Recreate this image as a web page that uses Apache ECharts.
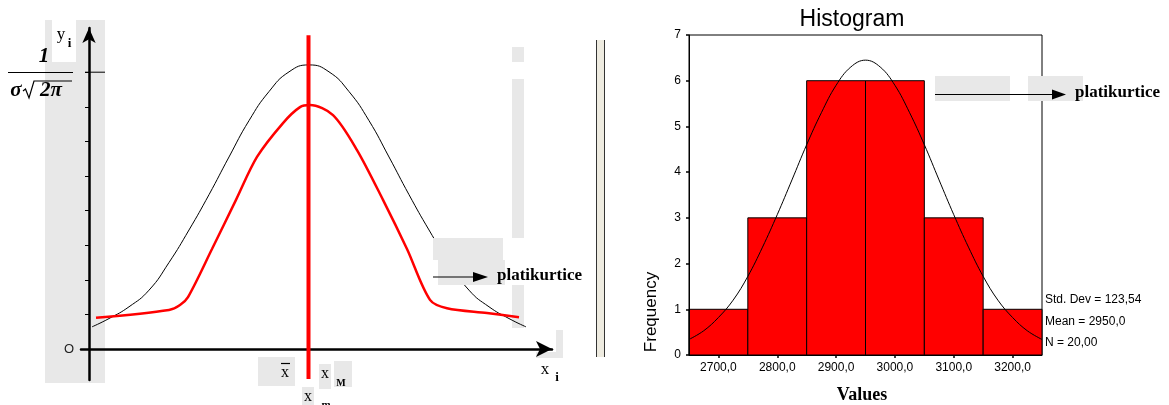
<!DOCTYPE html>
<html><head><meta charset="utf-8">
<script src="https://cdn.jsdelivr.net/npm/echarts@6/dist/echarts.min.js"></script>
<style>html,body{margin:0;padding:0;background:#fff}#c{width:1169px;height:405px}</style>
</head><body><div id="c"></div>
<script>
// ---------- Left diagram data (arbitrary units: x horizontal, y density) ----------
const normalCurveX = [0.3, 2, 4, 6, 8, 10, 12, 14, 16, 18, 20, 22, 24, 26, 28, 30, 32, 34, 36, 38, 40, 42, 43.7];
const normalCurveY = [0.64, 0.88, 1.22, 1.70, 2.50, 3.44, 4.46, 5.55, 6.60, 7.44, 8.01, 8.21, 8.01, 7.44, 6.60, 5.55, 4.46, 3.44, 2.50, 1.70, 1.22, 0.88, 0.64];
const platyCurveX = [0.7, 8.0, 9.1, 9.9, 12.3, 14.7, 16.8, 19.4, 21.1, 22.1, 24.4, 26.8, 29.4, 31.8, 34.1, 35.8, 39.8, 43.0];
const platyCurveY = [0.90, 1.13, 1.27, 1.50, 2.89, 4.31, 5.55, 6.53, 6.99, 7.05, 6.76, 5.75, 4.31, 2.89, 1.42, 1.18, 1.04, 0.92];
const meanX = 21.95;
const meanLineY = [-0.87, 9.07];
const yTickValues = [1, 2, 3, 4, 5, 6, 7, 8];
const peakTickY = 8;
const peakTickX = [-0.4, 1.6];

// ---------- Histogram data ----------
const binStarts = [2650, 2750, 2850, 2950, 3050, 3150];
const binEnds = [2750, 2850, 2950, 3050, 3150, 3250];
const frequencies = [1, 3, 6, 6, 3, 1];
const histTickValues = [2700, 2800, 2900, 3000, 3100, 3200];
const histTickLabels = ['2700,0', '2800,0', '2900,0', '3000,0', '3100,0', '3200,0'];
const fitCurveX = [2650, 2675, 2700, 2725, 2750, 2775, 2800, 2825, 2850, 2875, 2900, 2925, 2950, 2975, 3000, 3025, 3050, 3075, 3100, 3125, 3150, 3175, 3200, 3225, 3250];
const fitCurveY = [0.34, 0.53, 0.82, 1.2, 1.72, 2.36, 3.07, 3.83, 4.6, 5.3, 5.9, 6.3, 6.45, 6.3, 5.9, 5.3, 4.6, 3.83, 3.07, 2.36, 1.72, 1.2, 0.82, 0.53, 0.34];
const statsLines = ['Std. Dev = 123,54', 'Mean = 2950,0', 'N = 20,00'];

// ---------- layout (pixels) ----------
const L = {originX: 89, originY: 349, pxX: 10, pxY: 34.6, left: 81, right: 552, top: 28, bottom: 380};
const H = {left: 689, top: 35, right: 1042, bottom: 355};

const zip = (a, b) => a.map((v, i) => [v, b[i]]);
const serif = '"Liberation Serif", "DejaVu Serif", serif';
const sans = '"Liberation Sans", Arial, sans-serif';
const GRAY = '#e8e8e8';

const chart = echarts.init(document.getElementById('c'), null, {renderer: 'canvas'});

function rect(x, y, w, h, fill, z) { return {type: 'rect', shape: {x, y, width: w, height: h}, style: {fill}, z: z, silent: true}; }
function txt(x, y, text, font, opts) {
  return Object.assign({type: 'text', x, y, z: 8, silent: true,
    style: Object.assign({text, font, fill: '#000', align: 'center', verticalAlign: 'middle'}, (opts && opts.style) || {})},
    (opts && opts.el) || {});
}
function line(x1, y1, x2, y2, w, color, z) { return {type: 'line', shape: {x1, y1, x2, y2}, style: {stroke: color || '#000', lineWidth: w}, z: z || 8, silent: true}; }
function tri(pts) { return {type: 'polygon', shape: {points: pts}, style: {fill: '#000'}, z: 8, silent: true}; }

const graphics = [
  // scanned-paper grey patches (behind)
  rect(45, 20, 60, 363, GRAY, 0),
  rect(52, 20, 24, 42, '#fff', 0),
  rect(512, 47, 12, 15, GRAY, 0),
  rect(512, 79, 12, 159, GRAY, 0),
  rect(512, 285, 12, 43, GRAY, 0),
  rect(556, 330, 7, 22, GRAY, 0),
  rect(536, 352, 27, 6, GRAY, 0),
  rect(258, 357, 37, 29, GRAY, 0),
  rect(319, 364, 12, 25, GRAY, 0),
  rect(334, 361, 18, 26, GRAY, 0),
  rect(302, 387, 12, 18, GRAY, 0),
  // platikurtice patches (over the curves)
  rect(433, 238, 70, 22, GRAY, 7),
  rect(438, 260, 67, 25, GRAY, 7),
  rect(935, 76, 75, 25, GRAY, 7),
  rect(1028, 76, 55, 25, GRAY, 7),
  // separator double line
  rect(596, 40, 9, 317, '#eeebe0', 1),
  line(596.5, 40, 596.5, 357, 1, '#333', 2),
  line(604.5, 40, 604.5, 357, 1, '#333', 2),
  // left formula 1/(sigma sqrt(2 pi))
  txt(44, 57, '1', 'italic bold 21px ' + serif),
  line(8, 72.5, 73, 72.5, 1),
  txt(16, 91, 'σ', 'italic bold 21px ' + serif),
  {type: 'polyline', shape: {points: [[23, 91], [25.5, 89], [29, 98], [34, 81], [72, 81]]}, style: {stroke: '#000', lineWidth: 1.2, fill: null}, z: 8, silent: true},
  txt(51, 91, '2π', 'italic bold 21px ' + serif),
  // axis labels
  txt(61, 35, 'y', '17px ' + serif),
  txt(69.5, 44, 'i', 'bold 13px ' + serif),
  txt(69, 349, 'O', '13px ' + sans, {style: {fill: '#222'}}),
  txt(285, 373, 'x', '16px ' + serif),
  line(281, 363.5, 290, 363.5, 1.2),
  txt(325, 374, 'x', '16px ' + serif),
  txt(341, 383, 'M', 'bold 10px ' + serif),
  txt(308, 397, 'x', '16px ' + serif),
  txt(326, 405, 'm', 'bold 11px ' + serif),
  txt(545, 370, 'x', '17px ' + serif),
  txt(557, 378, 'i', 'bold 13px ' + serif),
  // platikurtice annotations
  line(433, 277, 475, 277, 1.2),
  tri([[473, 272], [488, 277], [473, 282]]),
  txt(497, 276, 'platikurtice', 'bold 17px ' + serif, {style: {align: 'left'}}),
  line(935, 94.5, 1053, 94.5, 1.2),
  tri([[1052, 89.5], [1066, 94.5], [1052, 99.5]]),
  txt(1075, 93, 'platikurtice', 'bold 17px ' + serif, {style: {align: 'left'}}),
  // histogram texts
  txt(852, 20, 'Histogram', '23px ' + sans),
  txt(651, 312, 'Frequency', '17px ' + sans, {el: {rotation: Math.PI / 2}}),
  txt(862, 395, 'Values', 'bold 18px ' + serif)
];
statsLines.forEach((s, i) => graphics.push(txt(1045, 300 + i * 21.5, s, '12px ' + sans, {style: {align: 'left'}})));

const xMin = (L.left - L.originX) / L.pxX, xMax = (L.right - L.originX) / L.pxX;
const yMin = -(L.bottom - L.originY) / L.pxY, yMax = (L.originY - L.top) / L.pxY;

const option = {
  animation: false,
  backgroundColor: '#fff',
  grid: [
    {left: L.left, top: L.top, width: L.right - L.left, height: L.bottom - L.top, show: false},
    {left: H.left, top: H.top, width: H.right - H.left, height: H.bottom - H.top, show: true, borderColor: '#000', borderWidth: 1, backgroundColor: 'transparent'}
  ],
  xAxis: [
    {gridIndex: 0, type: 'value', min: xMin, max: xMax, z: 5,
      axisLine: {show: true, onZero: true, symbol: ['none', 'arrow'], symbolSize: [12, 16], lineStyle: {color: '#000', width: 2.5}},
      axisTick: {show: false}, axisLabel: {show: false}, splitLine: {show: false}},
    {gridIndex: 1, type: 'value', min: 2650, max: 3250, z: 5,
      axisLine: {show: true, onZero: false, lineStyle: {color: '#000', width: 1}},
      axisTick: {show: true, customValues: histTickValues, length: 3, lineStyle: {color: '#000', width: 1.5}},
      axisLabel: {show: true, customValues: histTickValues, margin: 7, fontSize: 12, fontFamily: sans, color: '#000',
        formatter: v => { const i = histTickValues.indexOf(v); return i >= 0 ? histTickLabels[i] : ''; }},
      splitLine: {show: false}}
  ],
  yAxis: [
    {gridIndex: 0, type: 'value', min: yMin, max: yMax, z: 5,
      axisLine: {show: true, onZero: true, symbol: ['none', 'arrow'], symbolSize: [10, 15], lineStyle: {color: '#000', width: 2.5}},
      axisTick: {show: true, customValues: yTickValues, length: 4, lineStyle: {color: '#000', width: 1}},
      axisLabel: {show: false}, splitLine: {show: false}},
    {gridIndex: 1, type: 'value', min: 0, max: 7, interval: 1, z: 5,
      axisLine: {show: true, onZero: false, lineStyle: {color: '#000', width: 1}},
      axisTick: {show: true, length: 3, lineStyle: {color: '#000', width: 1.5}},
      axisLabel: {show: true, margin: 8, fontSize: 12, fontFamily: sans, color: '#000'},
      splitLine: {show: false}}
  ],
  series: [
    {type: 'line', xAxisIndex: 0, yAxisIndex: 0, data: zip(normalCurveX, normalCurveY), smooth: 0.5, symbol: 'none',
      lineStyle: {color: '#000', width: 1}, z: 3, silent: true},
    {type: 'line', xAxisIndex: 0, yAxisIndex: 0, data: zip(platyCurveX, platyCurveY), smooth: 0.3, symbol: 'none',
      lineStyle: {color: '#ff0000', width: 2.5}, z: 4, silent: true},
    {type: 'line', xAxisIndex: 0, yAxisIndex: 0, data: meanLineY.map(y => [meanX, y]), symbol: 'none', clip: false,
      lineStyle: {color: '#ff0000', width: 4}, z: 6, silent: true},
    {type: 'line', xAxisIndex: 0, yAxisIndex: 0, data: peakTickX.map(x => [x, peakTickY]), symbol: 'none', clip: false,
      lineStyle: {color: '#000', width: 1}, z: 6, silent: true},
    {type: 'custom', xAxisIndex: 1, yAxisIndex: 1, z: 2, silent: true,
      data: binStarts.map((s, i) => [s, binEnds[i], frequencies[i]]),
      encode: {x: [0, 1], y: 2},
      renderItem: (params, api) => {
        const p0 = api.coord([api.value(0), 0]);
        const p1 = api.coord([api.value(1), api.value(2)]);
        return {type: 'rect', shape: {x: p0[0], y: p1[1], width: p1[0] - p0[0], height: p0[1] - p1[1]},
          style: {fill: '#ff0000', stroke: '#000', lineWidth: 1}};
      }},
    {type: 'line', xAxisIndex: 1, yAxisIndex: 1, data: zip(fitCurveX, fitCurveY), smooth: 0.4, symbol: 'none',
      lineStyle: {color: '#000', width: 1}, z: 3, silent: true}
  ],
  graphic: {elements: graphics}
};
chart.setOption(option);
</script>
</body></html>
